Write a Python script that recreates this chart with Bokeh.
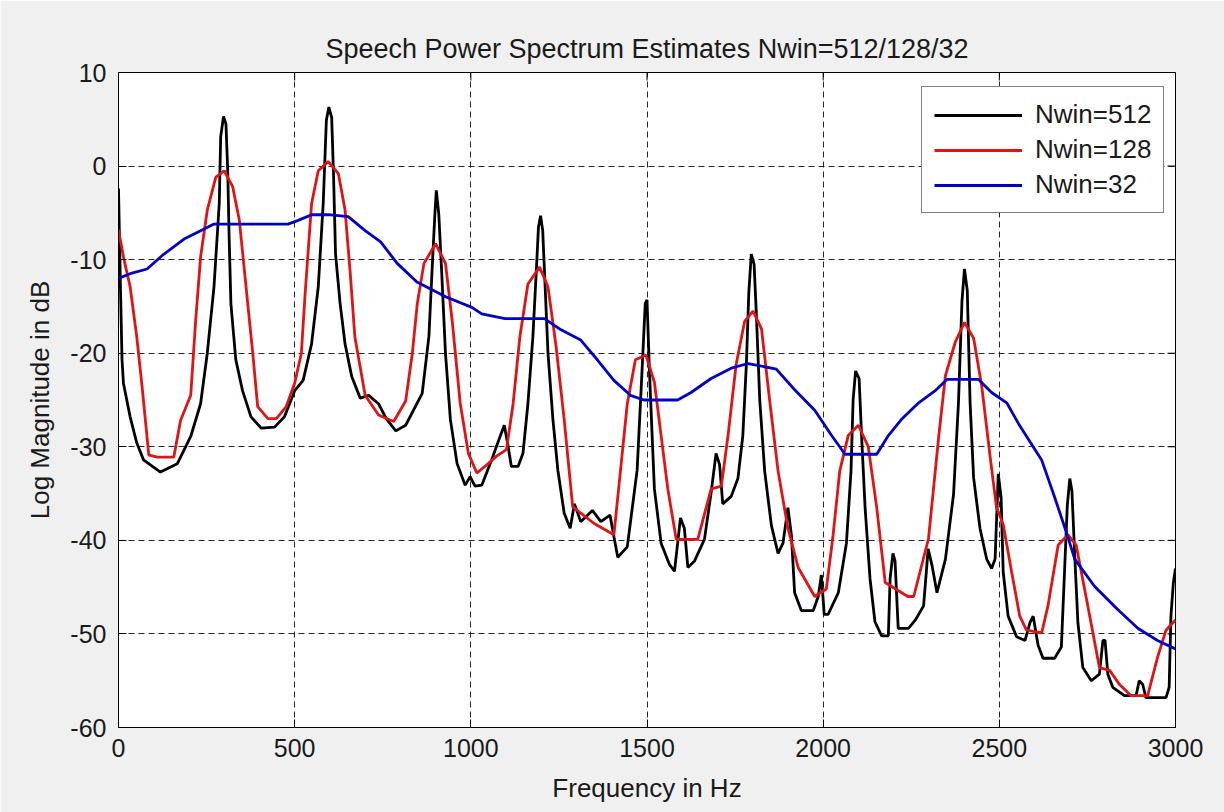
import math
from bokeh.plotting import figure
from bokeh.models import FixedTicker, Range1d, Title
from bokeh.embed import file_html
from bokeh.resources import INLINE

# ---------------- data ----------------
title_text = "Speech Power Spectrum Estimates Nwin=512/128/32"
x_label = "Frequency in Hz"
y_label = "Log Magnitude in dB"
x_ticks = [0, 500, 1000, 1500, 2000, 2500, 3000]
y_ticks = [-60, -50, -40, -30, -20, -10, 0, 10]

series_names = ["Nwin=512", "Nwin=128", "Nwin=32"]

freq_512 = [0, 5, 10, 14, 33, 52, 71, 119, 167, 205, 233, 252, 271, 286, 290, 298, 305, 310, 314, 319,
            333, 352, 376, 405, 443, 471, 500, 524, 548, 567, 581, 590, 597, 605, 610, 616, 629, 643,
            662, 686, 710, 738, 760, 787, 815, 862, 881, 890, 898, 902, 909, 917, 928, 942, 961, 984,
            998, 1012, 1031, 1059, 1083, 1095, 1106, 1115, 1134, 1148, 1162, 1176, 1186, 1192, 1198,
            1204, 1211, 1219, 1233, 1247, 1265, 1282, 1294, 1312, 1345, 1369, 1395, 1406, 1417, 1444,
            1472, 1486, 1495, 1500, 1507, 1521, 1540, 1564, 1578, 1587, 1595, 1606, 1616, 1635, 1663,
            1682, 1696, 1706, 1715, 1739, 1758, 1772, 1782, 1789, 1796, 1804, 1810, 1820, 1834, 1853,
            1872, 1886, 1900, 1910, 1919, 1938, 1972, 1986, 1995, 2003, 2014, 2043, 2066, 2079, 2085,
            2092, 2102, 2109, 2119, 2133, 2147, 2166, 2185, 2190, 2198, 2204, 2213, 2242, 2262, 2285,
            2298, 2309, 2323, 2347, 2370, 2384, 2394, 2401, 2409, 2417, 2427, 2445, 2464, 2478, 2488,
            2497, 2505, 2511, 2525, 2549, 2573, 2587, 2596, 2610, 2624, 2657, 2676, 2685, 2693, 2700,
            2706, 2714, 2723, 2737, 2761, 2784, 2794, 2800, 2808, 2822, 2855, 2888, 2897, 2907, 2916,
            2973, 2982, 2987, 2994, 3000]
db_512 = [-2.4, -12, -20.7, -23.2, -26.8, -29.6, -31.4, -32.7, -31.8, -28.9, -25.4, -20, -12.9, -4, 3.1,
          5.3, 4.5, -0.5, -7.6, -14.7, -20.7, -24, -26.8, -28, -27.9, -26.8, -24, -22.9, -19, -12.9,
          -4, 4.9, 6.3, 5.2, -0.5, -9.4, -14.7, -19, -22.5, -24.8, -24.5, -25.4, -27, -28.3, -27.7,
          -24.3, -18.2, -11.1, -5.1, -2.6, -5.1, -11.1, -20, -27.1, -31.8, -34.1, -33.2, -34.2, -34.1,
          -31.4, -28.9, -27.7, -30, -32.1, -32.1, -30.7, -25.4, -18.3, -11.1, -6.5, -5.3, -6.9, -13,
          -20, -27.1, -32.5, -37.1, -38.7, -36.1, -38, -36.8, -38, -37.3, -39.6, -41.8, -40.7, -32.5,
          -21.8, -14.7, -14.3, -22, -34.5, -40.3, -42.6, -43.3, -40.3, -37.6, -38.7, -42.9, -42.2,
          -39.9, -34.9, -30.7, -31.9, -36.1, -35.3, -33.4, -28.8, -21.2, -13.5, -9.4, -10.5, -15.5,
          -25, -32.6, -38.4, -41.4, -40.3, -36.5, -39.5, -45.6, -47.5, -47.5, -46, -43.7, -47.9,
          -47.9, -45.6, -40.3, -32.6, -25, -21.9, -22.7, -28.8, -36.5, -44.1, -48.7, -50.2, -50.2,
          -44.1, -41.4, -42.2, -49.4, -49.4, -48.5, -47, -40.9, -42.7, -45.6, -42, -35.1, -25.3,
          -14.4, -11, -13.3, -25.3, -33.3, -38.7, -42, -43, -42, -32.9, -35.4, -43.4, -48.1, -50.3,
          -50.7, -48.8, -48.1, -51.2, -52.6, -52.6, -51.4, -43.4, -36.2, -33.4, -34.7, -41.6, -48.8,
          -53.6, -55, -54.3, -50.7, -50.7, -54.3, -55.7, -56.6, -56.6, -55, -55.4, -56.8, -56.8,
          -55.7, -48.1, -44.5, -43]

freq_128 = [0, 14, 33, 52, 67, 86, 110, 157, 176, 205, 219, 233, 252, 276, 300, 324, 343, 362, 381, 395,
            424, 448, 476, 500, 519, 529, 548, 567, 595, 624, 643, 657, 671, 700, 738, 781, 815, 834,
            848, 867, 900, 928, 947, 970, 993, 1017, 1040, 1073, 1101, 1120, 1139, 1162, 1195, 1219,
            1242, 1265, 1289, 1312, 1350, 1406, 1420, 1444, 1467, 1497, 1521, 1540, 1559, 1583, 1644,
            1682, 1711, 1730, 1753, 1777, 1801, 1825, 1848, 1872, 1900, 1929, 1976, 2009, 2028, 2047,
            2071, 2100, 2128, 2152, 2176, 2240, 2257, 2299, 2328, 2347, 2375, 2401, 2427, 2450, 2474,
            2492, 2511, 2535, 2558, 2577, 2620, 2638, 2667, 2695, 2718, 2751, 2784, 2813, 2841, 2874,
            2921, 2949, 2973, 3000]
db_128 = [-6.8, -9.7, -12.9, -18.3, -23.6, -30.9, -31.1, -31.1, -27.2, -24.5, -16.5, -9.7, -4.7, -1.2,
          -0.5, -2.2, -5.8, -12.9, -20, -25.7, -27, -27, -25.7, -23.2, -20, -14, -4, -0.5, 0.5, -0.8,
          -4.7, -11.1, -18.3, -24.5, -26.6, -27.3, -25.1, -20, -14.7, -10.4, -8.3, -10.4, -16.5,
          -25.4, -30.7, -32.8, -32.1, -31, -30.3, -25.4, -18.3, -12.6, -10.8, -12.9, -19.3, -27.1,
          -36.4, -37.1, -38.2, -39.4, -34.3, -25.4, -20.7, -20.2, -23.1, -28.8, -34.5, -39.9, -39.9,
          -34.5, -34.2, -28.8, -21.2, -16.6, -15.5, -17.4, -25, -32.6, -38.7, -42.9, -46, -45.2,
          -39.5, -32.6, -28.8, -27.7, -30, -36.5, -44.5, -46, -46, -39.8, -28.9, -22.4, -18.8, -16.7,
          -18.4, -23.5, -31.1, -36.5, -38.3, -43.4, -48.1, -49.6, -49.9, -47, -40.5, -39.4, -40.5,
          -47, -53.6, -53.9, -55.4, -56.6, -56.6, -52.5, -49.6, -48.5]

freq_32 = [0, 33, 81, 129, 186, 233, 271, 357, 481, 510, 548, 595, 652, 700, 744, 791, 847, 930, 1003,
           1031, 1097, 1209, 1256, 1312, 1359, 1406, 1453, 1491, 1587, 1625, 1682, 1739, 1787, 1867,
           1919, 1976, 2024, 2062, 2152, 2185, 2224, 2271, 2318, 2351, 2441, 2478, 2521, 2554, 2620,
           2657, 2690, 2714, 2770, 2836, 2893, 2949, 3000]
db_32 = [-12, -11.5, -11, -9.4, -7.8, -6.9, -6.2, -6.2, -6.2, -5.8, -5.2, -5.2, -5.4, -6.9, -8.1,
         -10.4, -12.4, -14, -15.1, -15.8, -16.3, -16.3, -17.5, -18.6, -20.7, -22.9, -24.5, -25, -25,
         -24.2, -22.7, -21.6, -21.1, -21.7, -23.9, -26.1, -28.8, -30.8, -30.8, -28.8, -27, -25.3, -24,
         -22.8, -22.8, -24.2, -25.3, -27.5, -31.4, -35.4, -39.1, -42, -44.9, -47.4, -49.4, -50.7,
         -51.6]

series_colors = ["#000000", "#e01414", "#0000c8"]

# ---------------- figure ----------------
FONT = "Liberation Sans"
TXT = "#1a1a1a"

p = figure(
    width=1224, height=812,
    frame_width=1057, frame_height=655,
    x_range=Range1d(x_ticks[0], x_ticks[-1]), y_range=Range1d(y_ticks[0], y_ticks[-1]),
    output_backend="svg", toolbar_location=None,
    min_border_left=118, min_border_right=49, min_border_top=72, min_border_bottom=85,
)
p.background_fill_color = "white"
p.border_fill_color = "#f0f0f0"
p.outline_line_color = "black"
p.outline_line_width = 1

p.title = Title(text=title_text, align="center", text_font=FONT, text_font_size="27px",
                text_font_style="normal", text_color=TXT, standoff=17)

for ax, ticks in ((p.xaxis[0], x_ticks), (p.yaxis[0], y_ticks)):
    ax.ticker = FixedTicker(ticks=ticks)
    ax.major_label_overrides = {t: str(t) for t in ticks}
    ax.major_label_text_font = FONT
    ax.major_label_text_font_size = "25px"
    ax.major_label_text_color = TXT
    ax.axis_label_text_font = FONT
    ax.axis_label_text_font_size = "26px"
    ax.axis_label_text_font_style = "normal"
    ax.axis_label_text_color = TXT
    ax.major_tick_in = 8
    ax.major_tick_out = 0
    ax.minor_tick_line_color = None
    ax.axis_line_color = "black"

p.xaxis[0].axis_label = x_label
p.yaxis[0].axis_label = y_label
p.xaxis[0].major_label_standoff = 11
p.yaxis[0].major_label_standoff = 12
p.xaxis[0].axis_label_standoff = 13
p.yaxis[0].axis_label_standoff = 12

# inside tick marks on the top and right edges of the box
p.ray(x=x_ticks, y=[y_ticks[-1]] * len(x_ticks), length=8, length_units="screen",
      angle=-math.pi / 2, line_color="black", line_width=1)
p.ray(x=[x_ticks[-1]] * len(y_ticks), y=y_ticks, length=8, length_units="screen",
      angle=math.pi, line_color="black", line_width=1)

for g, ticks in ((p.xgrid[0], x_ticks), (p.ygrid[0], y_ticks)):
    g.ticker = FixedTicker(ticks=ticks)
    g.grid_line_color = "black"
    g.grid_line_dash = "6 4"
    g.grid_line_width = 1
    g.grid_line_alpha = 0.85

data = [(freq_512, db_512), (freq_128, db_128), (freq_32, db_32)]
for (fx, dy), name, col in zip(data, series_names, series_colors):
    p.line(fx, dy, line_color=col, line_width=2.8, legend_label=name)

lg = p.legend[0]
lg.location = (803, 514)
lg.margin = 0
lg.padding = 12
lg.spacing = 4
lg.glyph_width = 88
lg.glyph_height = 30
lg.label_height = 30
lg.label_standoff = 13
lg.label_text_font = FONT
lg.label_text_font_size = "26px"
lg.label_text_color = TXT
lg.border_line_color = "black"
lg.border_line_width = 1
lg.background_fill_color = "white"
lg.background_fill_alpha = 1.0

open("out.html", "w").write(file_html(p, INLINE))
